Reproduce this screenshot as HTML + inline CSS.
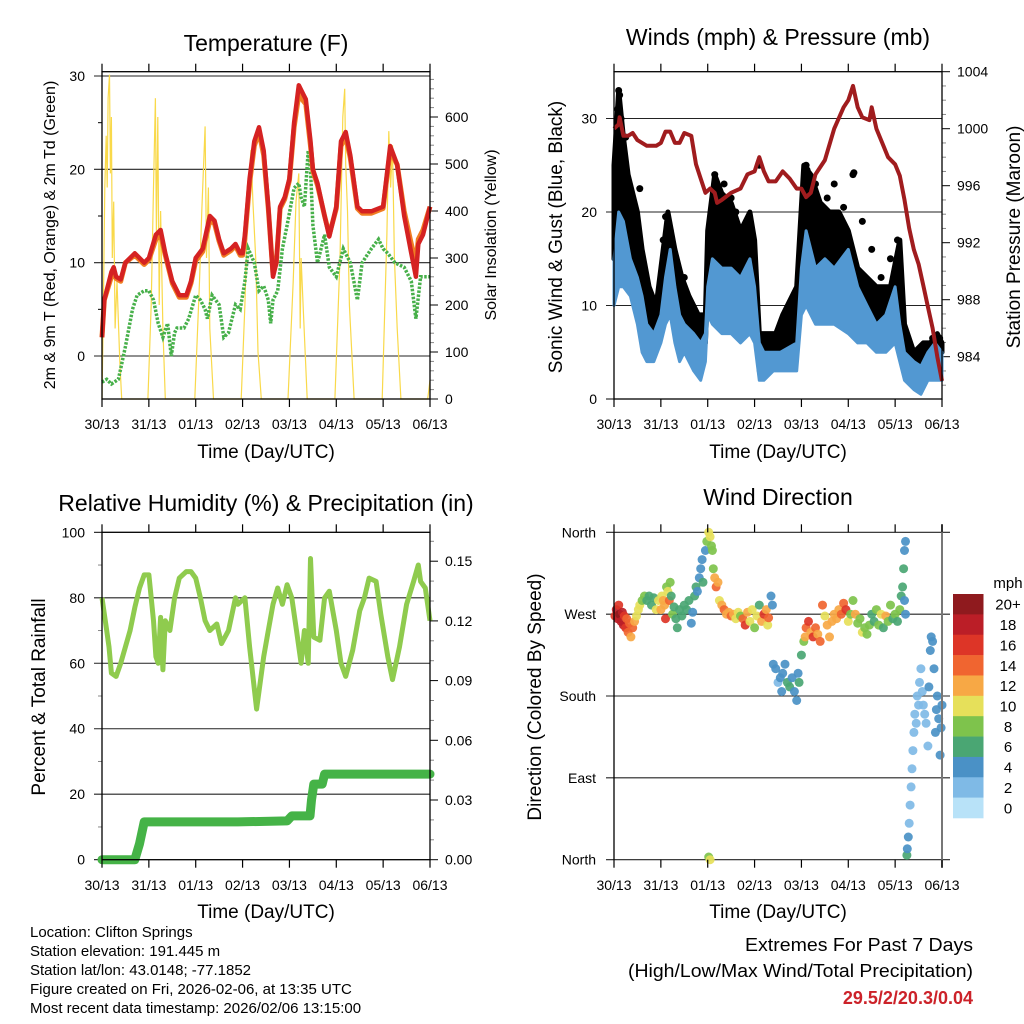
<!DOCTYPE html>
<html><head><meta charset="utf-8"><style>
html,body{margin:0;padding:0;background:#fff;width:1024px;height:1024px;overflow:hidden}
svg{display:block}
text{font-family:"Liberation Sans",sans-serif;fill:#000}
</style></head><body>
<svg id="chart" width="1024" height="1024" viewBox="0 0 1024 1024"></svg>
<script>
// ---------- DATA ----------
const dayLabels = ["30/13","31/13","01/13","02/13","03/13","04/13","05/13","06/13"];
// Temperature (F)
const tempT = [0,0.05,0.2,0.25,0.3,0.4,0.5,0.7,0.9,1.0,1.15,1.25,1.35,1.5,1.65,1.8,1.9,2.0,2.15,2.3,2.4,2.5,2.6,2.75,2.85,2.95,3.0,3.05,3.15,3.25,3.35,3.45,3.55,3.65,3.72,3.8,3.9,4.0,4.1,4.2,4.3,4.35,4.45,4.5,4.6,4.75,4.85,5.0,5.1,5.2,5.3,5.45,5.55,5.75,6.0,6.15,6.3,6.45,6.6,6.7,6.75,6.85,7.0];
const temp2m = [2,6,9,9.5,8.5,8.2,10,11,10,10.5,13,13.5,11,8,6.5,6.5,8,10.5,11.5,15,14.5,12.5,11,11.5,12,11,11,13,19,23,24.5,22,16,8.5,10,16,17,19,25,29,28,27.5,23,20,18.5,15,12.8,16,23,24,21.5,16,15.5,15.5,16,22.5,20.5,15,11,8.5,12,13,16];
const temp9m = [2,6,8.5,9,8.3,8,10,10.8,9.8,10.3,12.5,13,10.8,7.8,6.3,6.3,7.8,10.2,11.2,14.5,14.2,12.3,10.8,11.3,11.8,10.8,10.8,12.6,18.5,22.5,24,21.5,15.8,8.8,10,15.8,16.8,18.8,24.5,28,27.3,27,22.5,19.8,18.3,15,13,15.8,22.5,23.5,21.2,15.8,15.3,15.3,15.8,22,20.5,15.5,12,10,12.5,13.5,16];
const tdT = [0,0.1,0.2,0.35,0.5,0.65,0.75,0.9,1.0,1.1,1.2,1.3,1.4,1.48,1.55,1.6,1.75,1.85,2.0,2.1,2.2,2.25,2.35,2.5,2.6,2.7,2.85,2.95,3.05,3.12,3.25,3.35,3.45,3.55,3.6,3.65,3.75,3.85,3.95,4.1,4.2,4.25,4.32,4.4,4.45,4.5,4.6,4.75,4.85,5.0,5.15,5.3,5.45,5.55,5.75,5.9,6.0,6.1,6.25,6.45,6.6,6.7,6.8,7.0];
const td2m = [-2.8,-2.5,-3,-2.5,1,5,6.5,7,7,6,3.5,2,3.5,0,2.5,3,3,4,6.5,6,5,4,6.5,5.5,2,2.5,5.5,5,8,11.5,10,7,7.5,6,3.5,6,7,11.5,14,18,18.5,17,16,22,20,14,10,13,9.5,8.5,11.5,10,6,10,11.5,12.5,11.5,11,10,9.5,8,4,8.5,8.5];
const solarT = [0,0.03,0.06,0.09,0.11,0.13,0.16,0.18,0.2,0.22,0.25,0.28,0.32,0.38,0.42, 0.98,1.05,1.1,1.14,1.16,1.19,1.22,1.25,1.3,1.35, 1.98,2.08,2.13,2.2,2.23,2.27,2.3,2.38, 2.97,3.05,3.12,3.18,3.22,3.28,3.33,3.4, 3.97,4.08,4.14,4.2,4.23,4.25,4.3,4.38, 4.97,5.08,5.14,5.18,5.2,5.24,5.28,5.38, 5.98,6.08,6.12,6.16,6.2,6.24,6.3,6.38, 6.95,7.0];
const solarV = [0,200,450,560,450,640,690,480,600,300,420,150,250,80,0, 0,200,450,640,350,600,200,400,150,0, 0,250,400,580,300,450,150,0, 0,200,450,530,420,300,100,0, 0,250,420,480,150,300,180,0, 0,300,600,660,500,400,200,0, 0,350,570,450,540,300,150,0, 0,40];
// Winds (mph) & pressure (mb)
const windT = [0,0.1,0.2,0.35,0.5,0.6,0.7,0.85,1.0,1.1,1.2,1.3,1.4,1.5,1.7,1.85,1.95,2.0,2.1,2.3,2.5,2.7,2.9,3.0,3.1,3.2,3.4,3.55,3.9,4.0,4.1,4.3,4.5,4.7,5.0,5.2,5.4,5.6,5.8,6.0,6.1,6.2,6.4,6.55,6.7,6.85,7.0];
const windLo = [10,12,12,11,8,5,4,4,6,8,9,6,4,5,3,2,4,9,8,7,7,6,7,6,2,2,3,3,3,9,10,8,8,8,7,6,6,5,5,6,4,2,1,0.5,2,2,2];
const windHi = [15,20,19,15,13,11,8,7,9,13,16,12,9,8,7,6,7,12,15,14,14,13,15,12,6,5,5,5,6,14,18,14,15,14,16,12,10,8,9,12,8,5,4,3.5,5,6,5];
const gustT = [0,0.1,0.2,0.3,0.5,0.6,0.75,0.9,1.0,1.15,1.3,1.45,1.6,1.8,1.95,2.0,2.15,2.3,2.5,2.7,2.9,3.0,3.1,3.25,3.45,3.6,3.9,4.05,4.2,4.4,4.6,4.8,5.0,5.2,5.4,5.6,5.9,6.1,6.2,6.4,6.6,6.75,6.9,7.0];
const gustLo = [15,20,20,16,12,9,6,6,8,12,9,7,6,5,6,12,14,13,12,11,10,10,3,4,5,5,6,13,14,13,12,11,10,9,9,8,8,7,3,3,3,4,5,5];
const gustHi = [25,33,28,24,20,16,12,10,14,20,16,13,11,9,9,18,24,22,21,18,20,17,7,7,7,9,12,25,24,21,20,20,18,14,13,12,12,17,8,5,6,6,7,6];
const gustDotT = [0.1,0.12,0.08,0.15,0.25,0.55,1.1,1.15,1.2,1.05,1.5,2.15,2.35,2.5,2.25,2.6,2.85,3.1,3.9,3.75,4.1,4.12,4.3,4.55,4.7,4.9,5.1,5.12,5.3,5.5,5.7,5.9,6.05,6.3,6.8,6.95];
const gustDotV = [33,32.5,31,30,28,22.5,19.5,19,18,17,13,24,23,21.5,22,20,19,25,10,8.5,25,24.5,23,21.5,23,20.5,24,24.2,19,16,13,15,17,5.5,6.5,6.5];
const presT = [0,0.1,0.12,0.2,0.3,0.4,0.5,0.7,0.9,1.0,1.1,1.2,1.3,1.4,1.5,1.65,1.75,1.85,1.95,2.05,2.15,2.2,2.3,2.5,2.7,2.85,3.0,3.05,3.1,3.2,3.3,3.45,3.6,3.75,3.9,4.0,4.1,4.2,4.3,4.5,4.7,4.9,5.0,5.1,5.2,5.3,5.45,5.5,5.6,5.75,5.85,6.0,6.1,6.2,6.3,6.4,6.5,6.6,6.7,6.8,6.9,7.0];
const presV = [1000,1000.3,1000.8,999.5,999.5,999.7,999.2,998.8,998.8,999.0,999.8,999.8,999.0,999.0,999.7,999.5,997.5,996.5,995.5,995.8,995.5,994.8,995,995.5,995.8,996.8,997,997.5,998,997,996.3,996.3,997,996.5,995.8,995.8,995.2,995.5,996.8,997.8,1000,1001.5,1002,1003.0,1001.5,1000.8,1000.6,1001.5,1000,998.8,998,997.5,996.7,995,993,991.5,990.5,989,987.5,986,984,982.3];
// Relative humidity (%) & precipitation (in)
const rhT = [0,0.1,0.15,0.2,0.3,0.4,0.5,0.6,0.7,0.8,0.9,1.0,1.05,1.1,1.15,1.2,1.25,1.3,1.35,1.45,1.55,1.65,1.8,1.9,2.0,2.1,2.2,2.3,2.45,2.55,2.7,2.85,2.9,3.05,3.15,3.3,3.45,3.55,3.65,3.75,3.85,3.95,4.05,4.15,4.25,4.32,4.4,4.45,4.52,4.65,4.75,4.85,5.0,5.1,5.2,5.35,5.5,5.6,5.7,5.85,5.95,6.1,6.2,6.35,6.5,6.65,6.75,6.8,6.9,7.0];
const rhV = [80,70,65,57,56,60,65,70,77,83,87,87,80,73,62,60,74,58,73,70,80,86,88,88,86,80,73,70,72,66,70,80,78,80,65,46,62,70,78,83,78,84,80,70,60,70,60,92,68,67,80,82,70,60,56,64,76,80,86,85,75,62,55,65,78,85,90,85,83,73];
const rainT = [0,0.7,0.8,0.9,2.9,3.95,4.05,4.44,4.47,4.52,4.7,4.75,7.0];
const rainV = [0,0,0.008,0.019,0.019,0.0195,0.022,0.022,0.03,0.038,0.038,0.043,0.043];
// Wind direction (deg) coloured by speed (mph)
const dirT = [
0.02,0.05,0.08,0.1,0.12,0.15,0.18,0.2,0.22,0.25,
0.27,0.3,0.33,0.36,0.4,0.44,0.48,0.52,0.55,0.6,
0.65,0.7,0.75,0.8,0.85,0.9,0.95,1.0,1.02,1.05,
1.08,1.1,1.12,1.15,1.18,1.2,1.22,1.25,1.28,1.32,
1.35,1.4,1.45,1.5,1.55,1.6,1.65,1.68,1.72,1.75,
1.78,1.82,1.85,1.88,1.9,1.95,1.98,2.02,2.05,2.08,
2.1,2.12,2.15,2.18,2.22,2.25,2.3,2.35,2.4,2.45,
2.5,2.55,2.6,2.65,2.7,2.75,2.8,2.85,2.9,2.95,
3.0,3.05,3.1,3.15,3.2,3.25,3.28,3.3,3.35,3.38,
3.4,3.45,3.5,3.55,3.58,3.6,3.65,3.7,3.75,3.8,
3.85,3.9,3.93,3.95,4.0,4.05,4.08,4.1,4.15,4.2,
4.25,4.3,4.35,4.4,4.45,4.5,4.55,4.6,4.65,4.7,
4.75,4.8,4.85,4.9,4.95,5.0,5.05,5.1,5.15,5.2,
5.25,5.3,5.35,5.4,5.45,5.5,5.55,5.6,5.65,5.7,
5.75,5.8,5.85,5.9,5.95,6.0,6.05,6.1,6.13,6.16,
6.18,6.2,6.22,6.2,6.22,6.25,6.26,6.28,6.3,6.32,
6.34,6.36,6.38,6.4,6.42,6.45,6.47,6.5,6.52,6.55,
6.58,6.6,6.63,6.66,6.7,6.72,6.75,6.77,6.8,6.83,
6.86,6.88,6.9,6.93,6.96,7.0,6.98,2.02,2.05];
const dirV = [
268,275,265,280,270,262,272,258,268,255,
265,250,260,245,255,262,268,275,280,285,
290,285,290,280,288,275,285,275,290,285,
280,265,300,295,285,305,290,270,278,265,
255,275,268,280,275,285,260,272,290,300,
295,310,320,330,305,340,350,360,355,345,
340,320,310,300,305,285,280,275,270,272,
268,270,265,272,268,265,258,272,262,275,
255,268,280,262,270,275,258,266,290,280,
215,210,195,200,185,205,215,195,190,200,
185,175,205,195,225,240,245,255,262,250,
245,255,248,240,280,268,258,245,262,270,
265,275,270,282,275,262,270,285,270,260,
265,250,255,248,258,270,262,275,258,270,
255,268,262,280,265,270,262,275,290,300,
320,340,350,285,270,5,12,25,40,60,
80,100,120,140,160,150,180,170,195,210,
185,170,160,150,125,190,230,245,240,210,
140,165,180,155,115,170,145,3,0];
const dirS = [
16,18,18,16,20,18,18,18,16,16,
14,14,14,12,14,12,10,10,10,8,
8,6,6,6,6,10,10,12,10,12,
12,16,8,10,14,8,6,8,6,6,
6,6,6,6,6,6,4,4,6,6,
4,4,4,4,6,4,8,10,10,8,
8,8,12,14,12,10,12,14,12,12,
14,12,10,10,8,14,16,12,10,10,
8,10,6,12,16,12,10,14,4,4,
4,4,2,4,4,4,4,6,6,4,
4,4,4,6,6,8,12,14,16,12,
16,14,12,14,14,10,12,12,12,12,
12,12,14,14,16,10,8,8,12,8,
8,10,8,8,8,6,6,8,8,10,
6,12,8,8,6,8,6,8,6,6,
6,4,4,4,4,6,4,4,2,2,
2,2,2,2,2,2,2,2,2,2,
2,2,2,2,2,4,4,4,4,4,
4,4,4,4,4,4,4,8,10];
const speedLabels = ["20+","18","16","14","12","10","8","6","4","2","0"];
const speedColors = ["#8f1a1e","#bb1e27","#dd3527","#f06530","#f7a845","#e6e05a","#7ec34c","#4aa673","#4a91c6","#7fbae6","#b8e2f8"];

// ---------- HELPERS ----------
const svg = document.getElementById('chart');
const NS = 'http://www.w3.org/2000/svg';
function mk(tag, attrs, parent){const e=document.createElementNS(NS,tag);for(const k in attrs)e.setAttribute(k,attrs[k]);(parent||svg).appendChild(e);return e;}
function txt(s,x,y,size,anchor,parent,extra){const e=mk('text',Object.assign({x:x,y:y,'font-size':size,'text-anchor':anchor||'middle'},extra||{}),parent);e.textContent=s;return e;}
const X0=102, X1=430, DX=(X1-X0)/7;
function grp(name){const g=mk('g',{});return g;}
function pathFrom(ts,vs,xf,yf){return ts.map((t,i)=>(i?'L':'M')+xf(t).toFixed(1)+','+yf(vs[i]).toFixed(1)).join('');}
function bandFrom(ts,lo,hi,xf,yf){let d=ts.map((t,i)=>(i?'L':'M')+xf(t).toFixed(1)+','+yf(hi[i]).toFixed(1)).join('');for(let i=ts.length-1;i>=0;i--)d+='L'+xf(ts[i]).toFixed(1)+','+yf(lo[i]).toFixed(1);return d+'Z';}

function xAxis(g,off,top,bot,tickY){
  const xf=t=>off+X0+t*DX;
  dayLabels.forEach((l,i)=>{
    const x=xf(i);
    mk('line',{x1:x,x2:x,y1:top-8,y2:top,stroke:'#000','stroke-width':1.2},g);
    mk('line',{x1:x,x2:x,y1:bot,y2:bot+8,stroke:'#000','stroke-width':1.2},g);
    const t=txt(l,x,tickY,14,'middle',g);
    
    
  });
  return xf;
}
function frame(g,off,top,bot){
  mk('rect',{x:off+X0,y:top,width:X1-X0,height:bot-top,fill:'none',stroke:'#000','stroke-width':1.3},g);
}

// ---------- PANEL 1: TEMPERATURE ----------
(function(){
  const g=grp('temperature-panel');
  const top=71.7,bot=399;
  const yT=v=>356-v*9.333, yS=w=>399-w*0.47;
  const xf=t=>X0+t*DX;
  const tl=txt('Temperature (F)',266,51,23,'middle',g);
  [0,10,20,30].forEach(v=>{mk('line',{x1:X0-8,x2:X1,y1:yT(v),y2:yT(v),stroke:'#222','stroke-width':1.1},g);const t=txt(String(v),85,yT(v)+5,14,'end',g);});
  [5,15,25,-5].forEach(v=>{if(yT(v)<bot)mk('line',{x1:X0-4,x2:X0,y1:yT(v),y2:yT(v),stroke:'#000'},g);});
  for(let w=0;w<=680;w+=20){const y=yS(w);const maj=w%100===0;mk('line',{x1:X1,x2:X1+(maj?8:4),y1:y,y2:y,stroke:maj?'#000':'#888'},g);if(maj){const t=txt(String(w),445,y+5,14,'start',g);}}
  const sol=mk('path',{d:pathFrom(solarT,solarV,xf,yS),fill:'none',stroke:'#f9d94a','stroke-width':1.2},g);
  const td=mk('path',{d:pathFrom(tdT,td2m,xf,yT),fill:'none',stroke:'#47b04a','stroke-width':3.5,'stroke-dasharray':'2.5 1.5'},g);
  const o=mk('path',{d:pathFrom(tempT,temp9m,xf,yT),fill:'none',stroke:'#f07d23','stroke-width':5,'stroke-linejoin':'round'},g);
  const r=mk('path',{d:pathFrom(tempT,temp2m,xf,yT),fill:'none',stroke:'#d52222','stroke-width':4.5,'stroke-linejoin':'round'},g);
  frame(g,0,top,bot);
  xAxis(g,0,top,bot,429);
  const xt=txt('Time (Day/UTC)',266,458,19,'middle',g);
  const yl=txt('2m & 9m T (Red, Orange) & 2m Td (Green)',0,0,16,'middle',g,{transform:'translate(55,235) rotate(-90)'});
  const yr=txt('Solar Insolation (Yellow)',0,0,16,'middle',g,{transform:'translate(496,235) rotate(-90)'});
})();

// ---------- PANEL 2: WINDS ----------
(function(){
  const g=grp('winds-panel');
  const off=512, top=71.7, bot=399;
  const yW=v=>399-v*9.35, yP=p=>356.7-(p-984)*14.25;
  const xf=t=>off+X0+t*DX;
  const tl=txt('Winds (mph) & Pressure (mb)',778,45,23,'middle',g);
  [0,10,20,30].forEach(v=>{if(v>0)mk('line',{x1:off+X0-8,x2:off+X1,y1:yW(v),y2:yW(v),stroke:'#222','stroke-width':1.1},g);else mk('line',{x1:off+X0-8,x2:off+X0,y1:yW(v),y2:yW(v),stroke:'#000'},g);const t=txt(String(v),597,yW(v)+5,14,'end',g);});
  for(let p=982;p<=1004;p++){const y=yP(p);if(y>bot)continue;const maj=p%4===0;mk('line',{x1:off+X1,x2:off+X1+(maj?8:4),y1:y,y2:y,stroke:maj?'#000':'#888'},g);if(maj){const t=txt(String(p),off+445,y+5,14,'start',g);}}
  const gb=mk('path',{d:bandFrom(gustT,gustLo,gustHi,xf,yW),fill:'#000',stroke:'#000','stroke-width':5,'stroke-linejoin':'round'},g);
  gustDotT.forEach((t,i)=>{const c=mk('circle',{cx:xf(t),cy:yW(gustDotV[i]),r:3.5,fill:'#000'},g);});
  const wb=mk('path',{d:bandFrom(windT,windLo,windHi,xf,yW),fill:'#5298d2',stroke:'#5298d2','stroke-width':3,'stroke-linejoin':'round'},g);
  const pr=mk('path',{d:pathFrom(presT,presV,xf,yP),fill:'none',stroke:'#a01c1e','stroke-width':4,'stroke-linejoin':'round'},g);
  frame(g,off,top,bot);
  xAxis(g,off,top,bot,429);
  const xt=txt('Time (Day/UTC)',778,458,19,'middle',g);
  const yl=txt('Sonic Wind & Gust (Blue, Black)',0,0,19,'middle',g,{transform:'translate(562,237) rotate(-90)'});
  const yr=txt('Station Pressure (Maroon)',0,0,19,'middle',g,{transform:'translate(1020,237) rotate(-90)'});
})();

// ---------- PANEL 3: RH & PRECIP ----------
(function(){
  const g=grp('humidity-precip-panel');
  const top=532.3, bot=859.7;
  const yR=v=>859.7-v*3.274, yP=p=>859.7-p*1990;
  const xf=t=>X0+t*DX;
  const tl=txt('Relative Humidity (%) & Precipitation (in)',266,511,23,'middle',g);
  for(let v=0;v<=100;v+=10){const y=yR(v);if(v%20===0){if(v>0&&v<100)mk('line',{x1:X0-8,x2:X1,y1:y,y2:y,stroke:'#222','stroke-width':1.1},g);else mk('line',{x1:X0-8,x2:X0,y1:y,y2:y,stroke:'#000'},g);const t=txt(String(v),85,y+5,14,'end',g);}else mk('line',{x1:X0-4,x2:X0,y1:y,y2:y,stroke:'#888'},g);}
  for(let k=0;k<=16;k++){const p=k*0.01;const y=yP(p);if(y<top)continue;const maj=k%3===0;mk('line',{x1:X1,x2:X1+(maj?8:4),y1:y,y2:y,stroke:maj?'#000':'#888'},g);if(maj){const t=txt(p.toFixed(2),445,y+5,14,'start',g);}}
  const rh=mk('path',{d:pathFrom(rhT,rhV,xf,yR),fill:'none',stroke:'#8fcb4e','stroke-width':5,'stroke-linejoin':'round'},g);
  const rn=mk('path',{d:pathFrom(rainT,rainV,xf,yP),fill:'none',stroke:'#45b347','stroke-width':9,'stroke-linecap':'round','stroke-linejoin':'round'},g);
  frame(g,0,top,bot);
  xAxis(g,0,top,bot,890);
  const xt=txt('Time (Day/UTC)',266,918,19,'middle',g);
  const yl=txt('Percent & Total Rainfall',0,0,19,'middle',g,{transform:'translate(45,697) rotate(-90)'});
})();

// ---------- PANEL 4: WIND DIRECTION ----------
(function(){
  const g=grp('wind-direction-panel');
  const off=512, top=532.3, bot=859.7;
  const yD=d=>859.7-d*(327.4/360);
  const xf=t=>off+X0+t*DX;
  const tl=txt('Wind Direction',778,505,23,'middle',g);
  const dl=["North","East","South","West","North"];
  [0,90,180,270,360].forEach((d,i)=>{const y=yD(d);mk('line',{x1:off+X0-8,x2:off+X1+8,y1:y,y2:y,stroke:'#222','stroke-width':1.1},g);const t=txt(dl[i],596,y+5,14,'end',g);});
  const colorFor=s=>speedColors[10-Math.min(10,Math.floor(s/2))];
  const n=Math.min(dirT.length,dirV.length,dirS.length);
  for(let i=0;i<n;i++){const c=mk('circle',{cx:xf(dirT[i]).toFixed(1),cy:yD(dirV[i]).toFixed(1),r:4.5,fill:colorFor(dirS[i]),'fill-opacity':0.92},g);}
  mk('line',{x1:off+X0,x2:off+X0,y1:top,y2:bot,stroke:'#000','stroke-width':1.3},g);
  mk('line',{x1:off+X1,x2:off+X1,y1:top-8,y2:bot+8,stroke:'#777','stroke-width':2},g);
  xAxis(g,off,top,bot,890);
  const xt=txt('Time (Day/UTC)',778,918,19,'middle',g);
  const yl=txt('Direction (Colored By Speed)',0,0,19,'middle',g,{transform:'translate(541,697) rotate(-90)'});
  const lg=grp('speed-colorbar');
  const bh=(818-594)/11;
  speedLabels.forEach((l,i)=>{const r=mk('rect',{x:953,y:594+i*bh,width:30.5,height:bh+0.3,fill:speedColors[i]},lg);const t=txt(l,1008,594+i*bh+bh/2+5.5,15,'middle',lg);});
  const u=txt('mph',1008,588,15,'middle',lg);
})();

// ---------- FOOTER ----------
(function(){
  const g=grp('station-info');
  const lines=["Location: Clifton Springs","Station elevation: 191.445 m","Station lat/lon: 43.0148; -77.1852","Figure created on Fri, 2026-02-06, at 13:35 UTC","Most recent data timestamp: 2026/02/06 13:15:00"];
  lines.forEach((s,i)=>{const t=txt(s,30,937+i*19,15,'start',g);});
  const e=grp('extremes-box');
  const a=txt('Extremes For Past 7 Days',973,951,18,'end',e,{textLength:228,lengthAdjust:'spacingAndGlyphs'});
  const b=txt('(High/Low/Max Wind/Total Precipitation)',973,977,18,'end',e,{textLength:345,lengthAdjust:'spacingAndGlyphs'});
  const c=txt('29.5/2/20.3/0.04',973,1004,18,'end',e,{'font-weight':'bold',style:'fill:#cc2229'});
})();
</script>
</body></html>
